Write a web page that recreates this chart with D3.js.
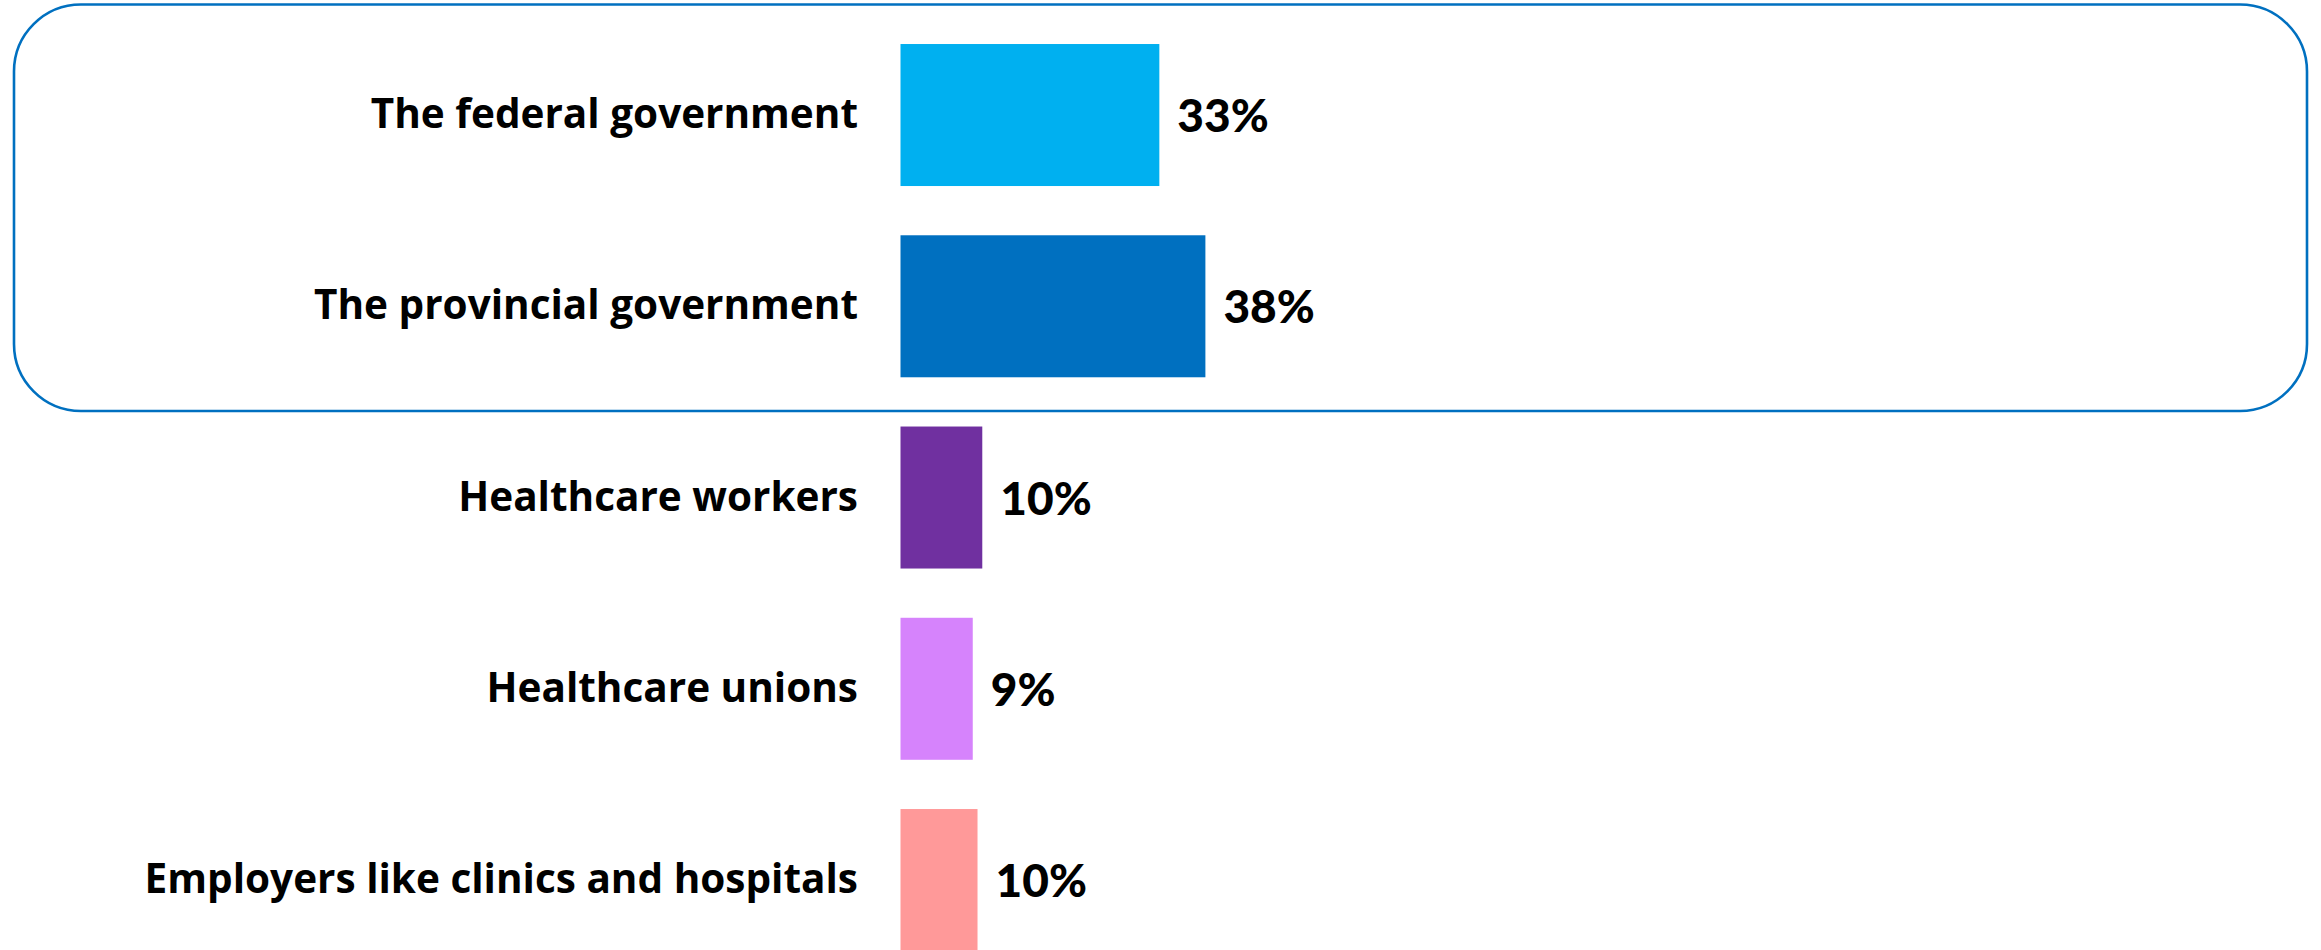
<!DOCTYPE html>
<html>
<head>
<meta charset="utf-8">
<script src="https://cdn.jsdelivr.net/npm/d3@7"></script>
<style>
  html, body { margin: 0; padding: 0; background: #ffffff; }
  svg { display: block; }
  text { fill: #000; }
  .cat { font-family: "Open Sans", "Lato", sans-serif; font-weight: 700; }
  .val { font-family: "Lato", "Open Sans", sans-serif; font-weight: 900; }
</style>
</head>
<body>
<svg id="chart" width="2321" height="950"></svg>
<script>
const categories = [
  "The federal government",
  "The provincial government",
  "Healthcare workers",
  "Healthcare unions",
  "Employers like clinics and hospitals"
];
const values = [32.6, 38.4, 10.3, 9.1, 9.7];
const valueLabels = ["33%", "38%", "10%", "9%", "10%"];
const colors = ["#00B0F0", "#0070C0", "#7030A0", "#D683FC", "#FF9999"];

const W = 2321, H = 950;
const svg = d3.select("#chart");

const x = d3.scaleLinear().domain([0, 100]).range([900.5, 900.5 + 794]);
const y = d3.scaleBand()
  .domain(categories)
  .range([19.4, 19.4 + 5 * 191.25])
  .paddingInner(0.2575)
  .paddingOuter(0.12875);

// highlight box around government rows
svg.append("rect")
  .attr("x", 14).attr("y", 4.5)
  .attr("width", 2307 - 14).attr("height", 411 - 4.5)
  .attr("rx", 67).attr("ry", 67)
  .attr("fill", "none")
  .attr("stroke", "#0070C0")
  .attr("stroke-width", 2.6);

const rows = svg.selectAll("g.row")
  .data(categories.map((c, i) => ({ c, v: values[i], l: valueLabels[i], col: colors[i] })))
  .join("g").attr("class", "row");

rows.append("rect")
  .attr("x", x(0))
  .attr("y", d => y(d.c))
  .attr("width", d => x(d.v) - x(0))
  .attr("height", y.bandwidth())
  .attr("fill", d => d.col);

rows.append("text")
  .attr("class", "cat")
  .attr("x", 858)
  .attr("y", d => y(d.c) + y.bandwidth() / 2 + 13)
  .attr("text-anchor", "end")
  .style("font-size", "40.5px")
  .text(d => d.c);

rows.append("text")
  .attr("class", "val")
  .attr("x", d => x(d.v) + 18)
  .attr("y", d => y(d.c) + y.bandwidth() / 2 + 17)
  .attr("text-anchor", "start")
  .style("font-size", "46px")
  .text(d => d.l);
</script>
</body>
</html>
